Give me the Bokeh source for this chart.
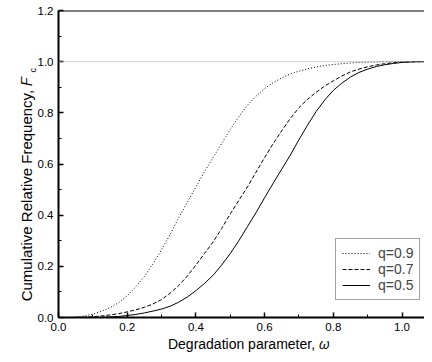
import math
from bokeh.plotting import figure
from bokeh.models import (Range1d, Span, Legend, LegendItem, FixedTicker,
                          PrintfTickFormatter, LinearAxis)
from bokeh.embed import file_html
from bokeh.resources import INLINE

# ---- data ----
omega = [0.0, 0.025, 0.05, 0.075, 0.1, 0.125, 0.15, 0.175, 0.2, 0.225, 0.25, 0.275,
         0.3, 0.325, 0.35, 0.375, 0.4, 0.425, 0.45, 0.475, 0.5, 0.525, 0.55, 0.575,
         0.6, 0.625, 0.65, 0.675, 0.7, 0.725, 0.75, 0.775, 0.8, 0.825, 0.85, 0.875,
         0.9, 0.925, 0.95, 0.975, 1.0, 1.025, 1.05, 1.075, 1.1]
fc_q09 = [0.0, 0.0, 0.002, 0.006, 0.013, 0.024, 0.038, 0.058, 0.085, 0.12, 0.16, 0.21,
          0.265, 0.325, 0.39, 0.45, 0.51, 0.57, 0.625, 0.68, 0.735, 0.785, 0.83, 0.865,
          0.895, 0.918, 0.937, 0.952, 0.963, 0.972, 0.979, 0.985, 0.989, 0.992, 0.995, 0.997,
          0.998, 0.999, 1.0, 1.0, 1.0, 1.0, 1.0, 1.0, 1.0]
fc_q07 = [0.0, 0.0, 0.0, 0.001, 0.003, 0.006, 0.01, 0.015, 0.022, 0.03, 0.04, 0.053,
          0.07, 0.095, 0.125, 0.162, 0.205, 0.25, 0.295, 0.348, 0.405, 0.458, 0.51, 0.568,
          0.625, 0.68, 0.73, 0.778, 0.82, 0.853, 0.88, 0.905, 0.925, 0.944, 0.96, 0.971,
          0.98, 0.987, 0.992, 0.996, 0.998, 0.999, 1.0, 1.0, 1.0]
fc_q05 = [0.0, 0.0, 0.0, 0.0, 0.0, 0.001, 0.002, 0.004, 0.008, 0.012, 0.018, 0.025,
          0.033, 0.044, 0.06, 0.08, 0.105, 0.133, 0.165, 0.205, 0.25, 0.3, 0.355, 0.41,
          0.468, 0.525, 0.58, 0.635, 0.695, 0.752, 0.805, 0.85, 0.888, 0.916, 0.94, 0.958,
          0.971, 0.981, 0.988, 0.993, 0.997, 0.999, 1.0, 1.0, 1.0]
series_labels = ["q=0.9", "q=0.7", "q=0.5"]
x_ticks = [0.0, 0.2, 0.4, 0.6, 0.8, 1.0]
x_minor = [0.1, 0.3, 0.5, 0.7, 0.9]
y_ticks = [0.0, 0.2, 0.4, 0.6, 0.8, 1.0, 1.2]
y_minor = [0.1, 0.3, 0.5, 0.7, 0.9, 1.1]
x_title = "Degradation parameter, \U0001D714"
y_title = "Cumulative Relative Frequency, \U0001D439"
y_title_sub = "c"

FONT = "Liberation Sans"
NBSP = "\u00a0"

p = figure(width=424, height=354, x_range=Range1d(0, 1.0655), y_range=Range1d(0, 1.2),
           output_backend="svg", toolbar_location=None,
           min_border_left=58, min_border_right=0, min_border_top=10, min_border_bottom=37)
p.outline_line_color = None
p.grid.visible = False
p.background_fill_color = "white"
p.border_fill_color = "white"

for ax, ticks, minor in ((p.xaxis[0], x_ticks, x_minor), (p.yaxis[0], y_ticks, y_minor)):
    ax.ticker = FixedTicker(ticks=ticks, minor_ticks=minor)
    ax.formatter = PrintfTickFormatter(format="%.1f")
    ax.axis_line_width = 2
    ax.axis_line_color = "black"
    ax.major_tick_in = 5
    ax.major_tick_out = 0
    ax.minor_tick_in = 3
    ax.minor_tick_out = 0
    ax.major_tick_line_width = 1.5
    ax.minor_tick_line_width = 1
    ax.major_label_text_font = FONT
    ax.major_label_text_font_size = "11.5px"
    ax.major_label_text_color = "black"
    ax.major_label_standoff = 5

# y title as the axis label; trailing no-break spaces push the visible text downwards
yax = p.yaxis[0]
yax.axis_label = y_title + NBSP * 12
yax.axis_label_standoff = 0
yax.axis_label_text_font = FONT
yax.axis_label_text_font_size = "15px"
yax.axis_label_text_font_style = "normal"
yax.axis_label_text_color = "black"


def text_axis(pos, text, size, standoff, orientation):
    return LinearAxis(ticker=FixedTicker(ticks=[pos], minor_ticks=[]),
                      major_label_overrides={pos: text},
                      axis_line_color=None, major_tick_line_color=None,
                      minor_tick_line_color=None,
                      major_tick_in=0, major_tick_out=0, minor_tick_in=0, minor_tick_out=0,
                      major_label_standoff=standoff,
                      major_label_orientation=orientation,
                      major_label_text_font=FONT, major_label_text_font_size=size,
                      major_label_text_color="black")

# x title: centred near x = 248 px
p.add_layout(text_axis(0.553, x_title, "14px", 2, "horizontal"), "below")
# subscript of the y title: outermost axis pulled back inwards
p.add_layout(text_axis(0.975, y_title_sub, "9px", -18, math.pi / 2), "left")

# reference line at 1.0 and top border
p.add_layout(Span(location=1.0, dimension="width", line_color="#aaaaaa",
                  line_dash="1 1", line_width=1))
p.add_layout(Span(location=1.2, dimension="width", line_color="black", line_width=2))

r09 = p.line(omega, fc_q09, line_color="black", line_width=1, line_dash="1 2")
r07 = p.line(omega, fc_q07, line_color="black", line_width=1, line_dash="4 2")
r05 = p.line(omega, fc_q05, line_color="black", line_width=1)

legend = Legend(items=[LegendItem(label=series_labels[0], renderers=[r09]),
                       LegendItem(label=series_labels[1], renderers=[r07]),
                       LegendItem(label=series_labels[2], renderers=[r05])],
                location=(277, 17), margin=0, padding=6, spacing=0,
                glyph_width=28, glyph_height=16, label_height=16, label_standoff=8,
                label_text_font=FONT, label_text_font_size="14px",
                border_line_color="#444444", border_line_width=1,
                background_fill_color="white", background_fill_alpha=1.0)
p.add_layout(legend)

open("out.html", "w").write(file_html(p, INLINE))
